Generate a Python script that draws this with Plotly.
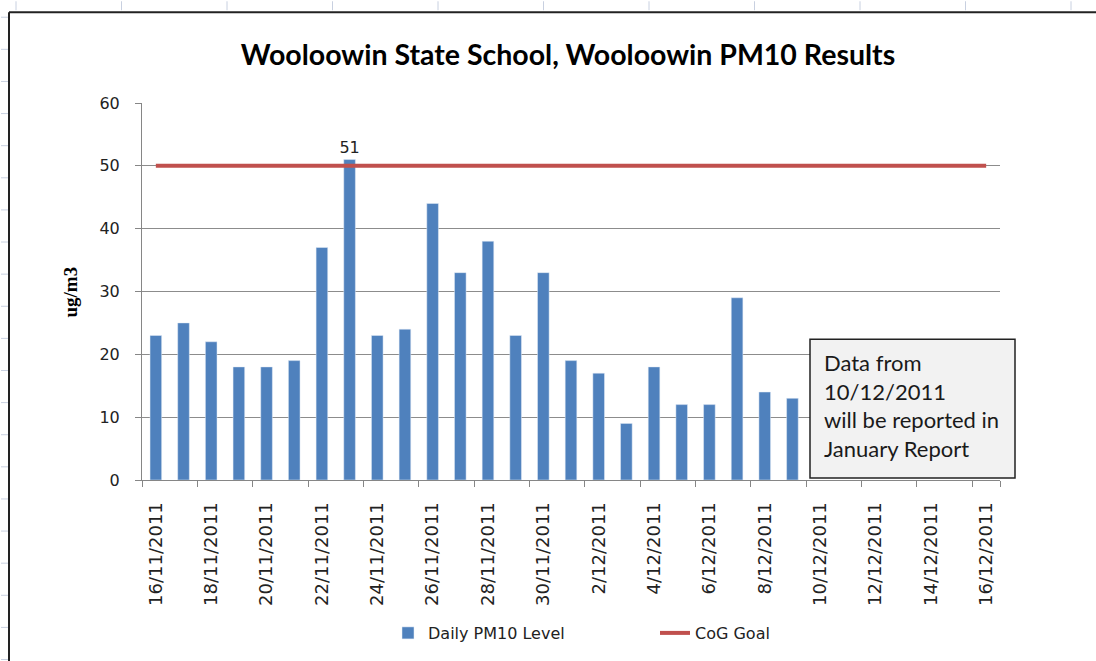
import plotly.graph_objects as go

dates = ["16/11/2011", "17/11/2011", "18/11/2011", "19/11/2011", "20/11/2011", "21/11/2011",
         "22/11/2011", "23/11/2011", "24/11/2011", "25/11/2011", "26/11/2011", "27/11/2011",
         "28/11/2011", "29/11/2011", "30/11/2011", "1/12/2011", "2/12/2011", "3/12/2011",
         "4/12/2011", "5/12/2011", "6/12/2011", "7/12/2011", "8/12/2011", "9/12/2011",
         "10/12/2011", "11/12/2011", "12/12/2011", "13/12/2011", "14/12/2011", "15/12/2011",
         "16/12/2011"]
pm10 = [23, 25, 22, 18, 18, 19, 37, 51, 23, 24, 44, 33, 38, 23, 33, 19, 17, 9, 18, 12, 12, 29, 14, 13,
        None, None, None, None, None, None, None]
pm10_labels = ["", "", "", "", "", "", "", "51", "", "", "", "", "", "", "", "", "", "", "", "", "", "", "", "",
               "", "", "", "", "", "", ""]
cog_goal = [50, 50, 50, 50, 50, 50, 50, 50, 50, 50, 50, 50, 50, 50, 50, 50, 50, 50, 50, 50, 50, 50, 50, 50,
            50, 50, 50, 50, 50, 50, 50]
tick_labels = dates[::2]

W, H = 1096, 661
L, R, T, B = 142, 1000, 103, 481


def px(x):
    return (x - L) / (R - L)


def py(y):
    return (B - y) / (B - T)


fig = go.Figure()
fig.add_trace(go.Bar(
    x=dates, y=pm10, name="Daily PM10 Level", marker_color="#4F81BD", width=0.42,
    text=pm10_labels, textposition="outside", cliponaxis=False, constraintext="none",
    textfont=dict(family="DejaVu Sans", size=16, color="#222222"),
))
fig.add_trace(go.Scatter(
    x=dates, y=cog_goal, name="CoG Goal", mode="lines",
    line=dict(color="#C0504D", width=4),
))

shapes = []
# chart frame
shapes.append(dict(type="line", xref="paper", yref="paper", x0=px(9), x1=px(1100), y0=py(12), y1=py(12),
                   line=dict(color="#222222", width=2)))
shapes.append(dict(type="line", xref="paper", yref="paper", x0=px(9), x1=px(9), y0=py(12), y1=py(670),
                   line=dict(color="#222222", width=2)))
# spreadsheet grid ticks outside frame
for k in range(11):
    xx = 16 + 105.5 * k
    shapes.append(dict(type="line", xref="paper", yref="paper", x0=px(xx), x1=px(xx), y0=py(1), y1=py(10),
                       line=dict(color="#C8D0E0", width=1)))
for k in range(21):
    yy = 17 + 32.2 * k
    shapes.append(dict(type="line", xref="paper", yref="paper", x0=px(1), x1=px(8), y0=py(yy), y1=py(yy),
                       line=dict(color="#C8D0E0", width=1)))
# note box
shapes.append(dict(type="rect", xref="paper", yref="paper", x0=px(810), x1=px(1015), y0=py(340), y1=py(479),
                   fillcolor="#F2F2F2", line=dict(color="#222222", width=1.5), layer="above"))

annotations = [
    dict(xref="paper", yref="paper", x=px(822), y=py(406), xanchor="left", yanchor="middle",
         text="Data from<br>10/12/2011<br>will be reported in<br>January Report", align="left",
         showarrow=False, font=dict(family="Lato", size=22, color="#1a1a1a")),
    dict(xref="paper", yref="paper", x=px(70), y=py(293), xanchor="center", yanchor="middle",
         text="<b>ug/m3</b>", textangle=-90, showarrow=False,
         font=dict(family="Liberation Serif", size=19, color="#000000")),
]

fig.update_layout(
    width=W, height=H,
    margin=dict(l=L, r=W - R, t=T, b=H - B),
    paper_bgcolor="white", plot_bgcolor="white",
    title=dict(text="<b>Wooloowin State School, Wooloowin PM10 Results</b>", x=568 / W, xanchor="center",
               y=1 - 55 / H, yanchor="middle", font=dict(family="Lato", size=28.5, color="#000000")),
    showlegend=True,
    legend=dict(orientation="h", x=px(388), y=py(633), xanchor="left", yanchor="middle",
                font=dict(family="DejaVu Sans", size=16, color="#222222"), entrywidth=222,
                bgcolor="rgba(0,0,0,0)"),
    shapes=shapes,
    annotations=annotations,
    xaxis=dict(type="category", tickmode="array", tickvals=tick_labels, ticktext=tick_labels,
               tickson="boundaries", ticks="outside", ticklen=6, tickcolor="#868686",
               showline=True, linecolor="#868686", linewidth=1, showgrid=False,
               tickangle=-90, ticklabelstandoff=14,
               tickfont=dict(family="DejaVu Sans", size=18, color="#222222"),
               range=[-0.5, 30.5]),
    yaxis=dict(range=[0, 60], tickmode="array", tickvals=[0, 10, 20, 30, 40, 50, 60],
               ticks="outside", ticklen=6, tickcolor="#868686",
               showline=True, linecolor="#868686", linewidth=1,
               showgrid=True, gridcolor="#8C8C8C", gridwidth=1, zeroline=False,
               ticklabelstandoff=12,
               tickfont=dict(family="DejaVu Sans", size=16, color="#222222")),
)

fig.write_html("out.html", config={"displayModeBar": False},
               post_script="document.body.style.margin='0';")
